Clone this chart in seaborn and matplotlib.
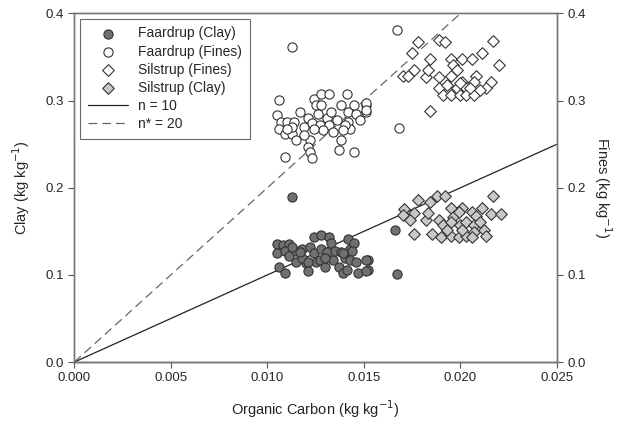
import numpy as np
import pandas as pd
import matplotlib
matplotlib.use("Agg")
import matplotlib.pyplot as plt
import seaborn as sns

# Faardrup clay (kg/kg) vs organic carbon
faar_clay_oc = [0.0105, 0.0108, 0.0111, 0.0105, 0.0109, 0.0111, 0.0106, 0.0109, 0.0115, 0.0115,
                0.0118, 0.0120, 0.0121, 0.0122, 0.0124, 0.0124, 0.0125, 0.0128, 0.0128, 0.0127,
                0.0130, 0.0132, 0.0133, 0.0131, 0.0134, 0.0137, 0.0139, 0.0135, 0.0138, 0.0141,
                0.0142, 0.0143, 0.0145, 0.0144, 0.0140, 0.0143, 0.0146, 0.0152, 0.0152, 0.0147,
                0.0139, 0.0130, 0.0118, 0.0121, 0.0113, 0.0117, 0.0151, 0.0151,
                0.0113, 0.0166, 0.0167]
faar_clay = [0.136, 0.134, 0.135, 0.125, 0.128, 0.122, 0.109, 0.102, 0.128, 0.115,
             0.130, 0.114, 0.104, 0.132, 0.143, 0.125, 0.115, 0.146, 0.130, 0.117,
             0.109, 0.143, 0.137, 0.126, 0.117, 0.109, 0.102, 0.128, 0.126, 0.106,
             0.141, 0.130, 0.137, 0.128, 0.119, 0.117, 0.115, 0.117, 0.106, 0.102,
             0.125, 0.119, 0.119, 0.115, 0.132, 0.126, 0.117, 0.105,
             0.189, 0.151, 0.101]

# Faardrup fines
faar_fines_oc = [0.0106, 0.0124, 0.0128, 0.0132, 0.0141, 0.0105, 0.0107, 0.0106, 0.0110, 0.0109,
                 0.0113, 0.0115, 0.0114, 0.0117, 0.0119, 0.0121, 0.0123, 0.0125, 0.0128, 0.0126,
                 0.0127, 0.0122, 0.0121, 0.0122, 0.0123, 0.0109, 0.0131, 0.0132, 0.0133, 0.0134,
                 0.0138, 0.0138, 0.0137, 0.0145, 0.0142, 0.0142, 0.0143, 0.0145, 0.0146, 0.0148,
                 0.0151, 0.0151, 0.0140, 0.0136, 0.0129, 0.0119, 0.0113, 0.0110, 0.0139, 0.0124,
                 0.0151, 0.0151, 0.0113, 0.0167, 0.0168]
faar_fines = [0.301, 0.302, 0.308, 0.308, 0.308, 0.283, 0.276, 0.268, 0.276, 0.262,
              0.262, 0.255, 0.276, 0.287, 0.270, 0.280, 0.274, 0.295, 0.295, 0.285,
              0.272, 0.255, 0.247, 0.241, 0.234, 0.235, 0.280, 0.272, 0.287, 0.264,
              0.295, 0.255, 0.243, 0.241, 0.287, 0.276, 0.268, 0.295, 0.285, 0.278,
              0.295, 0.287, 0.272, 0.278, 0.266, 0.260, 0.270, 0.268, 0.266, 0.268,
              0.297, 0.289, 0.362, 0.381, 0.269]

# Silstrup fines
sil_fines_oc = [0.0178, 0.0189, 0.0192, 0.0217, 0.0175, 0.0184, 0.0195, 0.0201, 0.0206, 0.0211,
                0.0220, 0.0176, 0.0170, 0.0173, 0.0182, 0.0183, 0.0196, 0.0198, 0.0189, 0.0195,
                0.0201, 0.0208, 0.0216, 0.0189, 0.0193, 0.0198, 0.0203, 0.0207, 0.0213, 0.0191,
                0.0195, 0.0200, 0.0203, 0.0207, 0.0210, 0.0184, 0.0200, 0.0205]
sil_fines = [0.367, 0.370, 0.367, 0.368, 0.355, 0.348, 0.348, 0.348, 0.348, 0.355,
             0.341, 0.335, 0.328, 0.328, 0.327, 0.335, 0.341, 0.335, 0.327, 0.328,
             0.321, 0.328, 0.321, 0.314, 0.318, 0.315, 0.315, 0.321, 0.315, 0.307,
             0.307, 0.307, 0.307, 0.307, 0.312, 0.288, 0.320, 0.314]

# Silstrup clay
sil_clay_oc = [0.0178, 0.0188, 0.0192, 0.0217, 0.0171, 0.0184, 0.0176, 0.0170, 0.0174, 0.0182,
               0.0183, 0.0195, 0.0201, 0.0206, 0.0211, 0.0216, 0.0221, 0.0189, 0.0196, 0.0199,
               0.0208, 0.0191, 0.0195, 0.0200, 0.0203, 0.0207, 0.0210, 0.0176, 0.0185, 0.0190,
               0.0195, 0.0199, 0.0203, 0.0207, 0.0212, 0.0213, 0.0193, 0.0201, 0.0206]
sil_clay = [0.186, 0.191, 0.191, 0.191, 0.176, 0.184, 0.171, 0.169, 0.163, 0.163,
            0.171, 0.177, 0.177, 0.172, 0.177, 0.170, 0.170, 0.163, 0.167, 0.172,
            0.168, 0.157, 0.161, 0.157, 0.161, 0.157, 0.161, 0.147, 0.147, 0.143,
            0.145, 0.143, 0.145, 0.149, 0.151, 0.145, 0.151, 0.151, 0.143]

# ratio lines (clay = OC * n)
n_labels = ["n = 10", "n* = 20"]
n_values = [10, 20]
oc_range = [0.0, 0.025]

plt.rcParams["figure.dpi"] = 100
sns.set_style("ticks")
plt.rcParams["font.family"] = ["Liberation Sans", "DejaVu Sans"]

fig, ax = plt.subplots(figsize=(6.39, 4.21))
fig.subplots_adjust(left=0.1163, right=0.8717, bottom=0.14, top=0.968)

edge = "#333333"
sz = 44
sns.scatterplot(x=faar_clay_oc, y=faar_clay, ax=ax, marker="o", color="#707070",
                edgecolor=edge, linewidth=0.8, s=sz, label="Faardrup (Clay)", zorder=3)
sns.scatterplot(x=faar_fines_oc, y=faar_fines, ax=ax, marker="o", color="white",
                edgecolor=edge, linewidth=0.8, s=sz, label="Faardrup (Fines)", zorder=3)
sns.scatterplot(x=sil_fines_oc, y=sil_fines, ax=ax, marker="D", color="white",
                edgecolor=edge, linewidth=0.8, s=sz * 0.8, label="Silstrup (Fines)", zorder=3)
sns.scatterplot(x=sil_clay_oc, y=sil_clay, ax=ax, marker="D", color="#c8c8c8",
                edgecolor=edge, linewidth=0.8, s=sz * 0.8, label="Silstrup (Clay)", zorder=3)

line_df = pd.DataFrame({
    "oc": np.tile(oc_range, len(n_values)),
    "val": np.concatenate([np.array(oc_range) * n for n in n_values]),
    "lab": np.repeat(n_labels, len(oc_range)),
})
sns.lineplot(data=line_df[line_df.lab == n_labels[0]], x="oc", y="val", ax=ax,
             color="#222222", linewidth=0.9, label=n_labels[0], zorder=2)
sns.lineplot(data=line_df[line_df.lab == n_labels[1]], x="oc", y="val", ax=ax,
             color="#666666", linewidth=0.9, dashes=False, label=n_labels[1], zorder=2)
ax.lines[-1].set_dashes([7, 4])

ax.set_xlim(0, 0.025)
ax.set_ylim(0, 0.4)
ax.set_xticks([0, 0.005, 0.010, 0.015, 0.020, 0.025])
ax.set_xticklabels(["0.000", "0.005", "0.010", "0.015", "0.020", "0.025"])
ax.set_yticks([0, 0.1, 0.2, 0.3, 0.4])
ax.set_yticklabels(["0.0", "0.1", "0.2", "0.3", "0.4"])
ax.set_xlabel("Organic Carbon (kg kg$^{-1}$)", fontsize=10.5, labelpad=10)
ax.set_ylabel("Clay (kg kg$^{-1}$)", fontsize=10.5, labelpad=10)
ax.tick_params(labelsize=9.5, length=4, width=0.8, color="#555555")

ax2 = ax.twinx()
ax2.set_ylim(0, 0.4)
ax2.set_yticks([0, 0.1, 0.2, 0.3, 0.4])
ax2.set_yticklabels(["0.0", "0.1", "0.2", "0.3", "0.4"])
ax2.set_ylabel("Fines (kg kg$^{-1}$)", fontsize=10.5, rotation=270, labelpad=20)
ax2.tick_params(labelsize=9.5, length=4, width=0.8, color="#555555")

for a in (ax, ax2):
    for side, sp in a.spines.items():
        sp.set_visible(True)
        sp.set_linewidth(1.0)
        sp.set_color("#777777")
ax.spines["bottom"].set_color("#111111")

leg = ax.legend(loc="upper left", fontsize=10, frameon=True, fancybox=False,
                edgecolor="#444444", handlelength=2.9, borderpad=0.55,
                labelspacing=0.3, handletextpad=0.75, borderaxespad=0,
                bbox_to_anchor=(0.012, 0.985))
leg.get_frame().set_linewidth(0.8)

fig.savefig("out.png", dpi=100)
